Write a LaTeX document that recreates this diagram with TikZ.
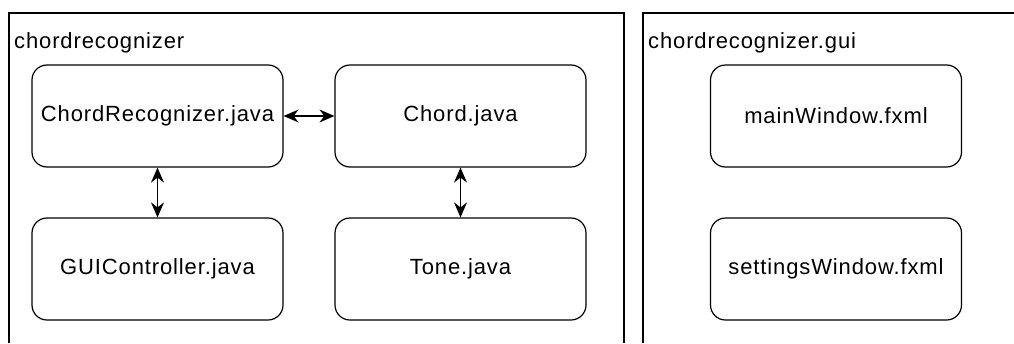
\documentclass[tikz,border=0pt]{standalone}
\usepackage{fontspec}
\setmainfont[LetterSpace=4]{Liberation Sans}
\usetikzlibrary{arrows.meta}

\tikzset{
  filebox/.style={draw, line width=1.2pt, rounded corners=15pt,
    minimum width=251pt, minimum height=102pt, font=\fontsize{22}{26}\selectfont},
  packlabel/.style={anchor=base west, inner sep=0pt, font=\fontsize{22}{26}\selectfont},
  link/.style={line width=1.2pt, {Stealth[length=15pt,width=13pt,inset=5pt]}-{Stealth[length=15pt,width=13pt,inset=5pt]}}
}

\begin{document}
\begin{tikzpicture}[x=1pt, y=-1pt]

  \useasboundingbox (0,0) rectangle (1014,343);

  % package frames (open at the bottom)
  \draw[line width=1.2pt] (9,343) -- (9,13) -- (624,13) -- (624,343);
  \draw[line width=1.2pt] (643,343) -- (643,13) -- (1014,13);

  % package labels
  \node[packlabel] (pkgmain) at (14,48) {chordrecognizer};
  \node[packlabel] (pkggui) at (648,48) {chordrecognizer.gui};

  % first package
  \node[filebox] (recognizer) at (157.5,116) {ChordRecognizer.java};
  \node[filebox] (chord) at (460.5,116) {Chord.java};
  \node[filebox] (controller) at (157.5,269) {GUIController.java};
  \node[filebox] (tone) at (460.5,269) {Tone.java};

  % second package
  \node[filebox] (mainwin) at (836,116) {mainWindow.fxml};
  \node[filebox] (settingswin) at (836,269) {settingsWindow.fxml};

  % dependencies
  \draw[link] (recognizer) -- (chord);
  \draw[link] (recognizer) -- (controller);
  \draw[link] (chord) -- (tone);

\end{tikzpicture}
\end{document}
